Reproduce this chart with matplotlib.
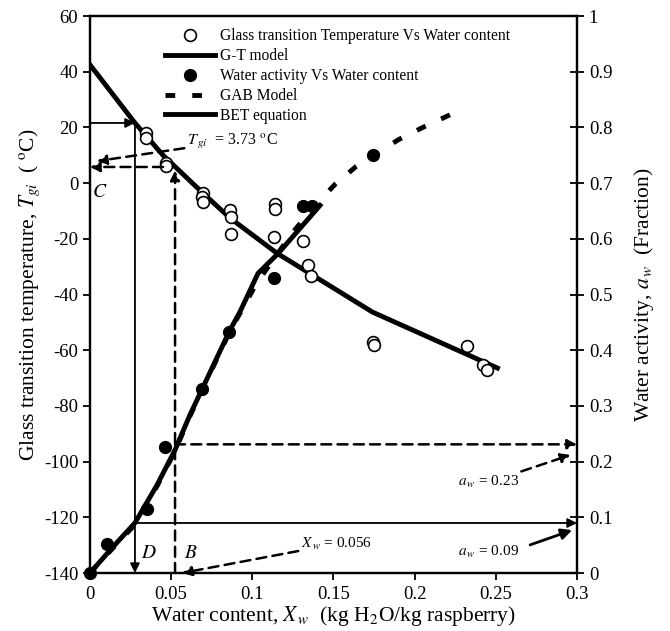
import matplotlib.pyplot as plt

plt.rcParams['font.family'] = ['Liberation Serif', 'DejaVu Serif']
plt.rcParams['mathtext.fontset'] = 'stix'
plt.rcParams['axes.unicode_minus'] = False

# Glass transition temperature vs water content (left axis)
gt_x = [0.0345, 0.0345, 0.0468, 0.0468, 0.0696, 0.069, 0.0696, 0.0862, 0.0869, 0.0869,
        0.114, 0.114, 0.1133, 0.131, 0.134, 0.136, 0.1743, 0.175, 0.232, 0.242, 0.2446]
gt_t = [18.0, 16.2, 7.2, 6.1, -3.6, -5.0, -6.8, -9.7, -12.2, -18.3,
        -7.5, -9.3, -19.4, -20.8, -29.4, -33.4, -57.1, -58.0, -58.5, -65.3, -67.1]

# G-T model curve
gtm_x = [0.0, 0.0277, 0.045, 0.0696, 0.0862, 0.115, 0.137, 0.174, 0.251]
gtm_t = [42.5, 21.6, 10.0, -3.6, -12.5, -25.1, -33.0, -46.3, -66.4]

# Water activity vs water content (right axis)
aw_x = [0.0, 0.0105, 0.035, 0.046, 0.069, 0.0856, 0.1133, 0.131, 0.137, 0.1745]
aw_y = [0.0, 0.052, 0.115, 0.226, 0.330, 0.433, 0.530, 0.659, 0.659, 0.750]

# GAB model
gab_x = [0.0, 0.0142, 0.0277, 0.0413, 0.0524, 0.0616, 0.0862, 0.103, 0.125, 0.14,
         0.151, 0.164, 0.19, 0.205, 0.222]
gab_y = [0.0, 0.045, 0.087, 0.156, 0.219, 0.282, 0.434, 0.522, 0.612, 0.664,
         0.698, 0.73, 0.778, 0.80, 0.823]

# BET equation
bet_x = [0.0, 0.0142, 0.0277, 0.0413, 0.0524, 0.0616, 0.0862, 0.0924, 0.1035, 0.116, 0.1417]
bet_y = [0.0, 0.047, 0.090, 0.158, 0.221, 0.284, 0.436, 0.469, 0.538, 0.574, 0.66]

fig = plt.figure(figsize=(6.7, 6.31), dpi=100)
ax = fig.add_axes([0.1343, 0.0919, 0.7269, 0.8827])
ax2 = ax.twinx()

ax.plot(gtm_x, gtm_t, color='black', lw=3.5, zorder=2, label='G-T model')
ax.plot(gt_x, gt_t, 'o', mfc='white', mec='black', mew=1.2, ms=8.5, zorder=3,
        label='Glass transition Temperature Vs Water content')

ax2.plot(bet_x, bet_y, color='black', lw=3.5, label='BET equation')
ax2.plot(gab_x, gab_y, color='black', lw=3.5, dashes=(2, 3.5), label='GAB Model')
ax2.plot(aw_x, aw_y, 'o', color='black', ms=8.5, label='Water activity Vs Water content',
         clip_on=False)

ax.set_xlim(0, 0.3)
ax.set_ylim(-140, 60)
ax2.set_ylim(0, 1)
ax.set_xticks([0, 0.05, 0.1, 0.15, 0.2, 0.25, 0.3])
ax.set_xticklabels(['0', '0.05', '0.1', '0.15', '0.2', '0.25', '0.3'])
ax.set_yticks(range(-140, 61, 20))
ax2.set_yticks([0, 0.1, 0.2, 0.3, 0.4, 0.5, 0.6, 0.7, 0.8, 0.9, 1])
ax2.set_yticklabels(['0', '0.1', '0.2', '0.3', '0.4', '0.5', '0.6', '0.7', '0.8', '0.9', '1'])

for a in (ax, ax2):
    for s in a.spines.values():
        s.set_linewidth(1.6)
ax.tick_params(axis='both', direction='out', length=5, width=1.3, labelsize=13.5)
ax.tick_params(axis='x', pad=4)
ax2.tick_params(axis='y', direction='inout', length=10, width=1.3, labelsize=13.5)

ax.set_xlabel('Water content, $X_{\\,w}$  (kg H$_2$O/kg raspberry)', fontsize=15.5, labelpad=1)
ax.set_ylabel('Glass transition temperature, $T_{gi}$  ( $^{\\rm o}$C)', fontsize=15.5, labelpad=1)
ax2.set_ylabel('Water activity, $a_{\\,w}$  (Fraction)', fontsize=15.5, labelpad=14)

solid = dict(arrowstyle='-|>', color='black', lw=1.3, mutation_scale=14, shrinkA=0, shrinkB=0)
dashed = dict(arrowstyle='-|>', color='black', lw=1.8, ls=(0, (4, 2.5)), mutation_scale=14,
              shrinkA=0, shrinkB=0)

# solid construction lines
ax.annotate('', xy=(0.0277, 21.6), xytext=(0.0, 21.6), arrowprops=solid)
ax.annotate('', xy=(0.0277, -140), xytext=(0.0277, 21.6), arrowprops=solid)
ax2.annotate('', xy=(0.3, 0.0898), xytext=(0.0277, 0.0898), arrowprops=solid)

# dashed construction lines
ax.annotate('', xy=(0.0524, 4.5), xytext=(0.0524, -140), arrowprops=dashed)
ax.annotate('', xy=(0.0, 5.8), xytext=(0.045, 5.8), arrowprops=dashed)
ax2.annotate('', xy=(0.3, 0.231), xytext=(0.0524, 0.231), arrowprops=dashed)

# labelled call-outs
ax.annotate('$T_{\\,gi}$  = 3.73 $^{\\rm o}$C', xy=(0.0043, 7.9), xytext=(0.0598, 15.1),
            fontsize=11.5, va='center', ha='left', arrowprops=dashed)
ax.annotate('$X_{\\,w}$ = 0.056', xy=(0.0567, -140), xytext=(0.13, -129.6),
            fontsize=11, va='center', ha='left', arrowprops=dict(dashed, relpos=(0, 0.1)))
ax2.annotate('$a_{\\,w}$ = 0.23', xy=(0.296, 0.212), xytext=(0.227, 0.163),
             fontsize=11, va='center', ha='left', arrowprops=dashed)
ax2.annotate('$a_{\\,w}$ = 0.09', xy=(0.297, 0.077), xytext=(0.227, 0.038),
             fontsize=11, va='center', ha='left',
             arrowprops=dict(arrowstyle='-|>', color='black', lw=2, mutation_scale=16,
                             shrinkA=6, shrinkB=0, relpos=(1, 0.7)))

ax.text(0.006, -3.2, '$C$', fontsize=14, va='center', ha='center')
ax.text(0.036, -133, '$D$', fontsize=14, va='center', ha='center')
ax.text(0.062, -133, '$B$', fontsize=14, va='center', ha='center')

h1, l1 = ax.get_legend_handles_labels()
h2, l2 = ax2.get_legend_handles_labels()
handles = [h1[1], h1[0], h2[2], h2[1], h2[0]]
labels = [l1[1], l1[0], l2[2], l2[1], l2[0]]
ax2.legend(handles, labels, loc='upper left', bbox_to_anchor=(0.155, 0.978), frameon=False,
           fontsize=11.2, handlelength=3.2, handletextpad=0.3, labelspacing=0.25,
           borderpad=0, borderaxespad=0)

fig.savefig('out.png', dpi=100)
